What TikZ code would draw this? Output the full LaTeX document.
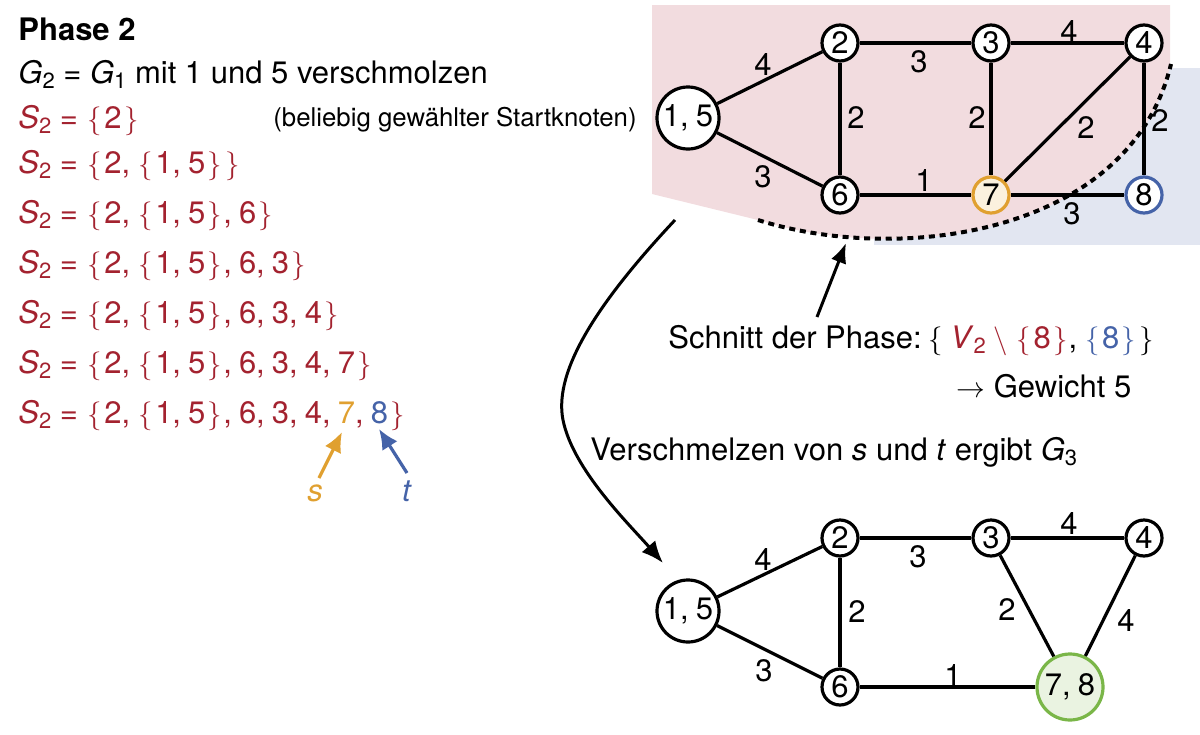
\documentclass[tikz,border=0pt]{standalone}
\usepackage{fontspec}
\setmainfont{TeX Gyre Heros}
\usetikzlibrary{arrows.meta}
\definecolor{cred}{HTML}{A3222F}
\definecolor{corange}{HTML}{E0A030}
\definecolor{cblue}{HTML}{4563A8}
\definecolor{cgreen}{HTML}{7AB648}
\definecolor{pinkbg}{HTML}{F2DCDF}
\definecolor{bluebg}{HTML}{E2E6F1}
\definecolor{orfill}{HTML}{FBF1DE}
\definecolor{grfill}{HTML}{EAF3E1}
\newcommand\mainsize{\fontsize{15.5pt}{18pt}\selectfont}
\newcommand\smallsz{\fontsize{12.9pt}{15pt}\selectfont}
\newcommand\subs[1]{\raisebox{-0.35ex}{\fontsize{11pt}{11pt}\selectfont #1}}
\newcommand\lb{\kern0.03em\ensuremath{\{}\kern0.08em}
\newcommand\rb{\kern0.08em\ensuremath{\}}\kern0.03em}
\newcommand\cs{,\kern0.23em}
\newcommand\Sz{\textit{S}\subs{2}}
\tikzset{
  vtx/.style={circle, draw, line width=1.6pt, fill=white, minimum size=18pt, inner sep=0pt, font=\mainsize},
  bigvtx/.style={vtx, minimum size=31pt},
  edge/.style={line width=1.6pt},
  wt/.style={font=\mainsize, inner sep=0pt},
  txt/.style={anchor=base west, inner sep=0pt, font=\mainsize},
  bigarrow/.style={line width=1.5pt, -{Latex[length=11pt,width=9pt]}},
  cutline/.style={line width=2pt, dash pattern=on 3pt off 2.4pt},
}
\begin{document}
\begin{tikzpicture}[x=0.5pt,y=-0.5pt]
\useasboundingbox (0,0) rectangle (1200,734);
% backgrounds
\fill[bluebg] (874,68) rectangle (1200,245);
\fill[pinkbg] (652,5) -- (1170,5) -- (1170,66) .. controls (1130,235) and (900,265) .. (758,220) -- (652,194) -- cycle;
\draw[cutline] (758,220) .. controls (900,265) and (1130,235) .. (1171,64);

% left text
\node[txt] (title) at (18,40) {\textbf{Phase 2}};
\node[txt] (l2) at (18,83) {\textit{G}\subs{2} = \textit{G}\subs{1} mit 1 und 5 verschmolzen};
\node[txt, text=cred] (l3) at (18,128) {\Sz{} = \lb 2\rb};
\node[txt, font=\smallsz] (note) at (273,126) {(beliebig gewählter Startknoten)};
\node[txt, text=cred] (l4) at (18,173) {\Sz{} = \lb 2\cs\lb 1\cs 5\rb\rb};
\node[txt, text=cred] (l5) at (18,223) {\Sz{} = \lb 2\cs\lb 1\cs 5\rb\cs 6\rb};
\node[txt, text=cred] (l6) at (18,273) {\Sz{} = \lb 2\cs\lb 1\cs 5\rb\cs 6\cs 3\rb};
\node[txt, text=cred] (l7) at (18,323) {\Sz{} = \lb 2\cs\lb 1\cs 5\rb\cs 6\cs 3\cs 4\rb};
\node[txt, text=cred] (l8) at (18,373) {\Sz{} = \lb 2\cs\lb 1\cs 5\rb\cs 6\cs 3\cs 4\cs 7\rb};
\node[txt, text=cred] (l9) at (18,423) {\Sz{} = \lb 2\cs\lb 1\cs 5\rb\cs 6\cs 3\cs 4\cs\textcolor{corange}{7}\cs\textcolor{cblue}{8}\rb};
\node[wt, text=corange] (slab) at (315,493) {\textit{s}};
\node[wt, text=cblue] (tlab) at (407,491) {\textit{t}};
\coordinate (stail) at (319,478);
\coordinate (shead) at (342,432);
\coordinate (ttail) at (407,473);
\coordinate (thead) at (379,429);
\draw[line width=1.6pt, corange, -{Latex[length=10pt,width=9pt]}] (stail) -- (shead);
\draw[line width=1.6pt, cblue, -{Latex[length=10pt,width=9pt]}] (ttail) -- (thead);

% top graph
\node[bigvtx] (a15) at (688,118) {1\cs 5};
\node[vtx] (a2) at (840,43) {2};
\node[vtx] (a3) at (991,43) {3};
\node[vtx] (a4) at (1144,43) {4};
\node[vtx] (a6) at (840,195) {6};
\node[vtx, draw=corange, fill=orfill] (a7) at (991,195) {7};
\node[vtx, draw=cblue] (a8) at (1144,195) {8};
\draw[edge] (a15) -- (a2);
\draw[edge] (a15) -- (a6);
\draw[edge] (a2) -- (a3);
\draw[edge] (a3) -- (a4);
\draw[edge] (a2) -- (a6);
\draw[edge] (a3) -- (a7);
\draw[edge] (a7) -- (a4);
\draw[edge] (a4) -- (a8);
\draw[edge] (a6) -- (a7);
\draw[edge] (a7) -- (a8);
\node[wt] (wa1) at (763,65) {4};
\node[wt] (wa2) at (919,62) {3};
\node[wt] (wa3) at (1069,32) {4};
\node[wt] (wa4) at (856,118) {2};
\node[wt] (wa5) at (977,118) {2};
\node[wt] (wa6) at (1086,128) {2};
\node[wt] (wa7) at (1160,121) {2};
\node[wt] (wa8) at (763,177) {3};
\node[wt] (wa9) at (924,181) {1};
\node[wt] (wa10) at (1072,214) {3};

% cut annotation
\node[txt] (cut) at (668,348) {Schnitt der Phase:\kern0.2em\lb\kern0.15em\textcolor{cred}{\textit{V}\subs{2}\kern0.25em$\setminus$\kern0.25em\lb 8\rb}\cs\textcolor{cblue}{\lb 8\rb}\rb};
\node[txt] (gew) at (956,397) {$\rightarrow$ Gewicht 5};
\coordinate (cuttail) at (817,317);
\coordinate (cuthead) at (846,243);
\draw[line width=1.5pt, -{Latex[length=10pt,width=8pt]}] (cuttail) -- (cuthead);

\node[txt] (merge) at (590,460) {Verschmelzen von \textit{s} und \textit{t} ergibt \textit{G}\subs{3}};
\coordinate (mstart) at (675,220);
\coordinate (mend) at (663,563);
\draw[bigarrow] (mstart) .. controls (600,300) and (553,370) .. (563,420) .. controls (573,470) and (630,525) .. (mend);

% bottom graph
\node[bigvtx] (b15) at (688,611) {1\cs 5};
\node[vtx] (b2) at (840,538) {2};
\node[vtx] (b3) at (991,538) {3};
\node[vtx] (b4) at (1144,538) {4};
\node[vtx] (b6) at (840,687) {6};
\node[vtx, draw=cgreen, fill=grfill, minimum size=33pt] (b78) at (1070,687) {7\cs 8};
\draw[edge] (b15) -- (b2);
\draw[edge] (b15) -- (b6);
\draw[edge] (b2) -- (b3);
\draw[edge] (b3) -- (b4);
\draw[edge] (b2) -- (b6);
\draw[edge] (b3) -- (b78);
\draw[edge] (b4) -- (b78);
\draw[edge] (b6) -- (b78);
\node[wt] (wb1) at (763,560) {4};
\node[wt] (wb2) at (918,557) {3};
\node[wt] (wb3) at (1069,524) {4};
\node[wt] (wb4) at (857,612) {2};
\node[wt] (wb5) at (1007,610) {2};
\node[wt] (wb6) at (1126,621) {4};
\node[wt] (wb7) at (764,671) {3};
\node[wt] (wb8) at (953,676) {1};
\end{tikzpicture}
\end{document}
